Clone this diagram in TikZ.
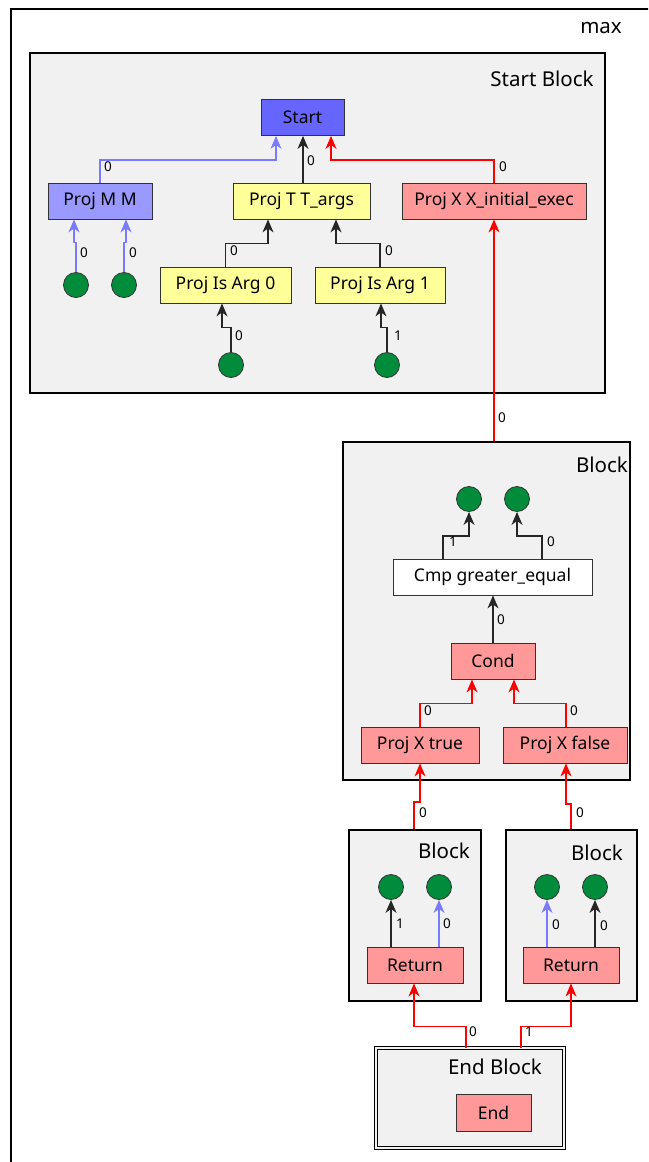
\documentclass[tikz,border=0pt]{standalone}
\usepackage{fontspec}
\setmainfont{Noto Sans}
\usetikzlibrary{calc,arrows.meta}

\definecolor{startblue}{RGB}{102,102,255}
\definecolor{projblue}{RGB}{153,153,255}
\definecolor{edgeblue}{RGB}{122,122,255}
\definecolor{nodeyellow}{RGB}{255,255,153}
\definecolor{nodepink}{RGB}{255,153,153}
\definecolor{leafgreen}{RGB}{0,140,58}
\definecolor{blockgray}{RGB}{241,241,241}
\definecolor{nodeline}{RGB}{51,51,51}
\definecolor{edgered}{RGB}{255,0,0}

\begin{document}
\begin{tikzpicture}[x=1pt,y=-1pt,
  op/.style={draw=nodeline, line width=0.8pt, minimum height=36pt, inner sep=0pt,
             font=\fontsize{17.5}{20}\selectfont},
  leaf/.style={circle, draw=nodeline, line width=0.8pt, fill=leafgreen,
               minimum size=25pt, inner sep=0pt},
  blockbox/.style={draw=black, line width=2.2pt, fill=blockgray, inner sep=0pt},
  blocklabel/.style={font=\fontsize{20.5}{24}\selectfont, inner sep=0pt},
  lbl/.style={font=\fontsize{13.5}{16}\selectfont, inner sep=0pt},
  edgebase/.style={line width=1.2pt, -{Stealth[length=13pt,width=11pt,inset=4pt]}},
  kedge/.style={edgebase, draw=black!85},
  redge/.style={edgebase, draw=edgered},
  bedge/.style={edgebase, draw=edgeblue}]

\useasboundingbox (0,0) rectangle (648,1162);

% outer function frame, running off the page on the right and bottom
\begin{scope}
  \clip (0,0) rectangle (648,1162);
  \draw[line width=2pt] (11,9) rectangle (700,1220);
\end{scope}
\node[blocklabel] (maxlabel) at (601,28) {max};

% ---------------- Start Block ----------------
\node[blockbox, minimum width=575pt, minimum height=340pt] (sblock) at (317.5,223) {};
\node[blocklabel] (sblocklabel) at (542,79) {Start Block};

\node[op, fill=startblue, minimum width=83pt] (start) at (302.5,117.5) {Start};
\node[op, fill=projblue, minimum width=104pt] (pmm) at (100,201) {Proj M M};
\node[op, fill=nodeyellow, minimum width=137pt] (ptt) at (301.5,201) {Proj T T\_args};
\node[op, fill=nodepink, minimum width=184pt] (pxx) at (494,201) {Proj X X\_initial\_exec};
\node[op, fill=nodeyellow, minimum width=131pt] (pia0) at (225.5,285) {Proj Is Arg 0};
\node[op, fill=nodeyellow, minimum width=130pt] (pia1) at (380,285) {Proj Is Arg 1};
\node[leaf] (sc1) at (76,285) {};
\node[leaf] (sc2) at (124,285) {};
\node[leaf] (sc3) at (231,365) {};
\node[leaf] (sc4) at (387,365) {};

\draw[bedge] (pmm.north) |- ($(start.south)+(-26.5,24)$) -- ($(start.south)+(-26.5,0)$);
\draw[kedge] ($(ptt.north)+(1.5,0)$) -- ($(start.south)+(0.5,0)$);
\draw[redge] (pxx.north) |- ($(start.south)+(28.5,24)$) -- ($(start.south)+(28.5,0)$);
\node[lbl] (l01) at (108,167) {0};
\node[lbl] (l02) at (311,161) {0};
\node[lbl] (l03) at (503,167) {0};

\draw[bedge] (sc1.north) -- ($(sc1.north)+(0,-30)$) -| ($(pmm.south)+(-26,0)$);
\draw[bedge] (sc2.north) -- ($(sc2.north)+(0,-30)$) -| ($(pmm.south)+(26,0)$);
\node[lbl] (l04) at (84,253) {0};
\node[lbl] (l05) at (133,253) {0};

\draw[kedge] (pia0.north) |- ($(ptt.south)+(-33.5,24)$) -- ($(ptt.south)+(-33.5,0)$);
\draw[kedge] (pia1.north) |- ($(ptt.south)+(34.5,24)$) -- ($(ptt.south)+(34.5,0)$);
\node[lbl] (l06) at (234,251) {0};
\node[lbl] (l07) at (389,251) {0};

\draw[kedge] (sc3.north) -- ($(sc3.north)+(0,-24.5)$) -| ($(pia0.south)+(-3.5,0)$);
\draw[kedge] (sc4.north) -- ($(sc4.north)+(0,-24.5)$) -| ($(pia1.south)+(1,0)$);
\node[lbl] (l08) at (239,336) {0};
\node[lbl] (l09) at (398,336) {1};

% ---------------- Block (compare) ----------------
\node[blockbox, minimum width=287pt, minimum height=338pt] (cblock) at (486.5,611) {};
\node[blocklabel] (cblocklabel) at (602,465) {Block};

\node[leaf] (cc1) at (469,499) {};
\node[leaf] (cc2) at (517,499) {};
\node[op, fill=white, minimum width=199pt] (cmp) at (492.5,577) {Cmp greater\_equal};
\node[op, fill=nodepink, minimum width=84pt] (cond) at (493,661) {Cond};
\node[op, fill=nodepink, minimum width=118pt] (ptrue) at (420,745) {Proj X true};
\node[op, fill=nodepink, minimum width=124pt] (pfalse) at (565,745) {Proj X false};

\draw[redge] (pxx.south |- cblock.north) -- (pxx.south);
\node[lbl] (l10) at (502,418) {0};

\draw[kedge] ($(cmp.north)+(-49.5,0)$) |- ($(cc1.south)+(0,24)$) -- (cc1.south);
\draw[kedge] ($(cmp.north)+(49.5,0)$) |- ($(cc2.south)+(0,24)$) -- (cc2.south);
\node[lbl] (l11) at (453,542) {1};
\node[lbl] (l12) at (551,542) {0};

\draw[kedge] (cond.north) -- (cond.north |- cmp.south);
\node[lbl] (l13) at (501,620) {0};

\draw[redge] (ptrue.north) |- ($(cond.south)+(-21,24)$) -- ($(cond.south)+(-21,0)$);
\draw[redge] ($(pfalse.north)+(1,0)$) |- ($(cond.south)+(21,24)$) -- ($(cond.south)+(21,0)$);
\node[lbl] (l14) at (428,711) {0};
\node[lbl] (l15) at (574,711) {0};

% ---------------- Return blocks ----------------
\node[blockbox, minimum width=132pt, minimum height=171pt] (lblock) at (415,915.5) {};
\node[blocklabel] (lblocklabel) at (444,851) {Block};
\node[blockbox, minimum width=131pt, minimum height=171pt] (rblock) at (571.5,915.5) {};
\node[blocklabel] (rblocklabel) at (597,853) {Block};

\node[leaf] (lc1) at (391,887) {};
\node[leaf] (lc2) at (439,887) {};
\node[op, fill=nodepink, minimum width=96pt] (retl) at (415,965) {Return};
\node[leaf] (rc1) at (547,887) {};
\node[leaf] (rc2) at (595,887) {};
\node[op, fill=nodepink, minimum width=96pt] (retr) at (571,965) {Return};

\draw[kedge] (retl.north -| lc1) -- (lc1.south);
\draw[bedge] (retl.north -| lc2) -- (lc2.south);
\draw[bedge] (retr.north -| rc1) -- (rc1.south);
\draw[kedge] (retr.north -| rc2) -- (rc2.south);
\node[lbl] (l16) at (400,924) {1};
\node[lbl] (l17) at (447,924) {0};
\node[lbl] (l18) at (556,925) {0};
\node[lbl] (l19) at (604,926) {0};

\draw[redge] ($(lblock.north)+(-1,0)$) -- ($(lblock.north)+(-1,-27)$) -| (ptrue.south);
\draw[redge] ($(rblock.north)+(-0.5,0)$) -- ($(rblock.north)+(-0.5,-25)$) -| ($(pfalse.south)+(1,0)$);
\node[lbl] (l20) at (423,813) {0};
\node[lbl] (l21) at (580,813) {0};

% ---------------- End Block ----------------
\node[draw=black, line width=0.9pt, double=blockgray, double distance=1.6pt,
      fill=blockgray, minimum width=188pt, minimum height=100pt, inner sep=0pt]
      (eblock) at (470,1098) {};
\node[blocklabel] (eblocklabel) at (495,1067) {End Block};
\node[op, fill=nodepink, minimum width=75pt, minimum height=37pt] (endn) at (493.5,1112.5) {End};

\draw[redge] ($(eblock.north)+(-4,0)$) |- ($(retl.south)+(-1,43)$) -- ($(retl.south)+(-1,0)$);
\draw[redge] ($(eblock.north)+(51,0)$) |- ($(retr.south)+(0,43)$) -- (retr.south);
\node[lbl] (l22) at (473,1032) {0};
\node[lbl] (l23) at (529,1032) {1};

\end{tikzpicture}
\end{document}
